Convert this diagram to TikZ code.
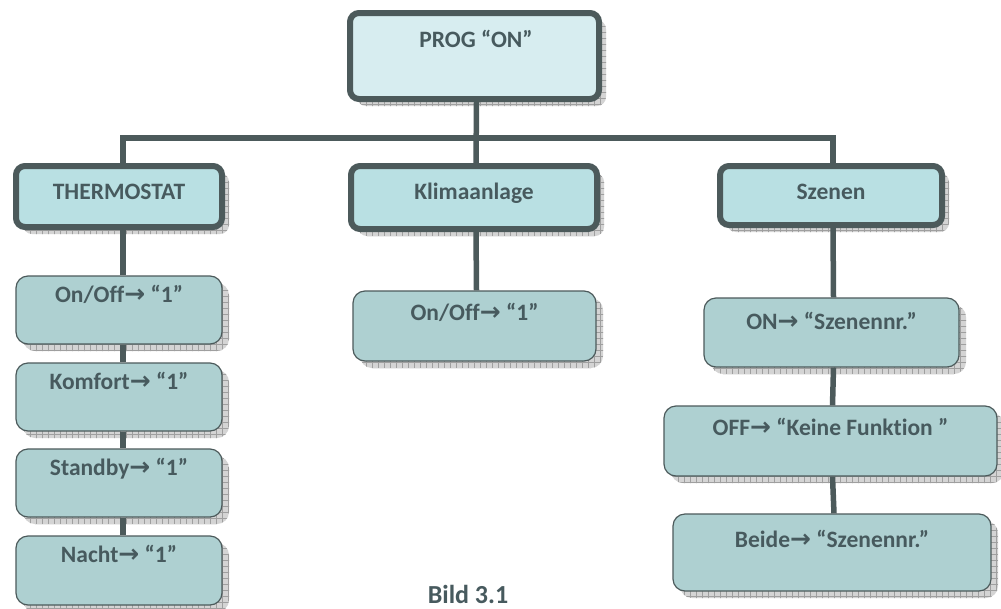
\documentclass[tikz,border=0pt]{standalone}
\usepackage{fontspec}
\setmainfont{Carlito}[Ligatures=NoCommon]
\newfontfamily\arrowfont{DejaVu Sans}
\usetikzlibrary{shadows,patterns.meta}
\definecolor{txt}{HTML}{475A5E}
\definecolor{edgec}{HTML}{4C5A5B}
\definecolor{topfill}{HTML}{D7EDF0}
\definecolor{midfill}{HTML}{B9E0E3}
\definecolor{lowfill}{HTML}{AED0D1}
\definecolor{shgray}{HTML}{D4D4D4}
\newcommand{\arr}{{\arrowfont\bfseries\fontsize{25}{26}\selectfont →}}
\tikzset{
  shad/.style={
    general shadow={shadow xshift=7pt, shadow yshift=-7pt, fill=shgray},
    general shadow={shadow xshift=7pt, shadow yshift=-7pt,
      pattern={Hatch[distance=6pt, angle=0, line width=0.5pt]}, pattern color=gray!75}},
  bigbox/.style={draw=edgec, line width=6pt, rounded corners=9pt, shad, inner sep=0pt},
  smallbox/.style={draw=edgec, line width=1.2pt, rounded corners=12pt, fill=lowfill, shad, inner sep=0pt},
  lbl/.style={text=txt, font=\fontsize{23.5}{27}\selectfont\bfseries, anchor=base, inner sep=0pt},
  conn/.style={draw=edgec, line width=5.5pt},
}
\begin{document}
\begin{tikzpicture}[x=1pt, y=-1pt]
\fill[white] (0,0) rectangle (1001,608);
\useasboundingbox (0,0) rectangle (1001,608);
% level 1
\node[bigbox, fill=topfill, minimum width=249pt, minimum height=86pt] (prog) at (474.5,56) {};
\node[lbl] (progt) at (476,47.5) {PROG “ON”};
% level 2
\node[bigbox, fill=midfill, minimum width=206pt, minimum height=61pt] (thermo) at (119,196.5) {};
\node[lbl] (thermot) at (119,199.5) {THERMOSTAT};
\node[bigbox, fill=midfill, minimum width=246pt, minimum height=63pt] (klima) at (474,197.5) {};
\node[lbl] (klimat) at (474,199.5) {Klimaanlage};
\node[bigbox, fill=midfill, minimum width=222pt, minimum height=59pt] (szen) at (831,195.5) {};
\node[lbl] (szent) at (831,199.5) {Szenen};
% thermostat children
\node[smallbox, minimum width=206pt, minimum height=68pt] (t1) at (119,310) {};
\node[lbl] (t1t) at (119,302.5) {On/Off\arr{} “1”};
\node[smallbox, minimum width=206pt, minimum height=68pt] (t2) at (119,397) {};
\node[lbl] (t2t) at (119,389.5) {Komfort\arr{} “1”};
\node[smallbox, minimum width=206pt, minimum height=68pt] (t3) at (119,483) {};
\node[lbl] (t3t) at (119,475.5) {Standby\arr{} “1”};
\node[smallbox, minimum width=206pt, minimum height=69pt] (t4) at (119,570.5) {};
\node[lbl] (t4t) at (119,562.5) {Nacht\arr{} “1”};
% klima child
\node[smallbox, minimum width=243pt, minimum height=70pt] (k1) at (474.5,326) {};
\node[lbl] (k1t) at (474.5,320.5) {On/Off\arr{} “1”};
% szenen children
\node[smallbox, minimum width=255pt, minimum height=69pt] (s1) at (831.5,332.5) {};
\node[lbl] (s1t) at (831.5,329.5) {ON\arr{} “Szenennr.”};
\node[smallbox, minimum width=333pt, minimum height=70pt] (s2) at (830.5,441) {};
\node[lbl] (s2t) at (830.5,435.5) {OFF\arr{} “Keine Funk{}tion ”};
\node[smallbox, minimum width=318pt, minimum height=77pt] (s3) at (832,552.5) {};
\node[lbl] (s3t) at (832,547.5) {Beide\arr{} “Szenennr.”};
% connectors
\coordinate (bus) at (0,138);
\draw[conn] ([xshift=4pt]thermo.north) -- ([xshift=4pt]thermo.north |- bus)
  -- ([xshift=2pt]szen.north |- bus) -- ([xshift=2pt]szen.north);
\draw[conn] ([xshift=2pt]prog.south) -- ([xshift=2pt]klima.north);
\draw[conn] ([xshift=4pt]thermo.south) -- ([xshift=4pt]t1.north);
\draw[conn] ([xshift=4pt]t1.south) -- ([xshift=4pt]t2.north);
\draw[conn] ([xshift=4pt]t2.south) -- ([xshift=4pt]t3.north);
\draw[conn] ([xshift=4pt]t3.south) -- ([xshift=4pt]t4.north);
\draw[conn] ([xshift=2pt]klima.south) -- ([xshift=2pt]k1.north);
\draw[conn] ([xshift=2pt]szen.south) -- ([xshift=2pt]s1.north);
\draw[conn] ([xshift=2pt]s1.south) -- ([xshift=2pt]s2.north);
\draw[conn] ([xshift=2pt]s2.south) -- ([xshift=2pt]s3.north);
% caption
\node[text=txt, font=\fontsize{26}{30}\selectfont\bfseries, anchor=base, inner sep=0pt] (cap) at (468,603) {Bild 3.1};
\end{tikzpicture}
\end{document}
